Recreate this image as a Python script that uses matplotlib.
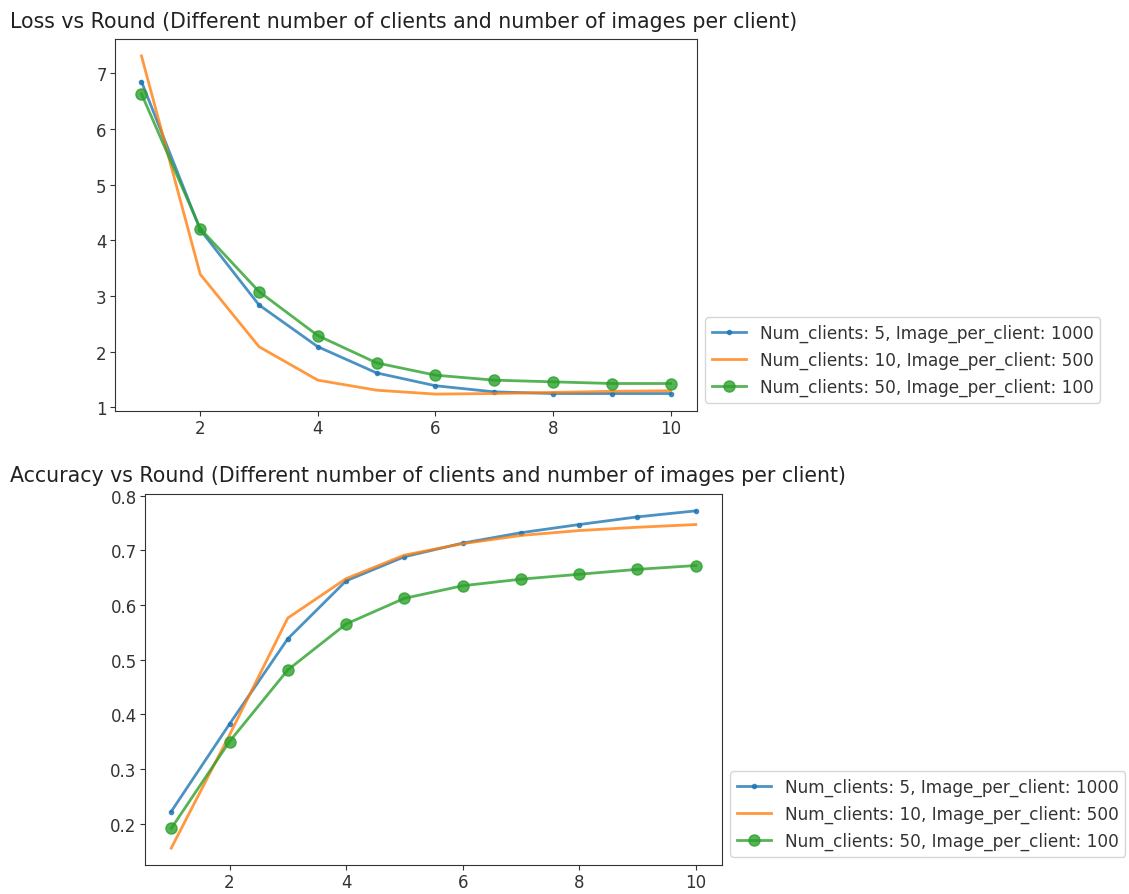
import matplotlib.pyplot as plt
import numpy as np

rounds = [1, 2, 3, 4, 5, 6, 7, 8, 9, 10]

labels = ["Num_clients: 5, Image_per_client: 1000",
          "Num_clients: 10, Image_per_client: 500",
          "Num_clients: 50, Image_per_client: 100"]

loss_5 = [6.85, 4.19, 2.84, 2.09, 1.62, 1.39, 1.28, 1.25, 1.25, 1.25]
loss_10 = [7.31, 3.39, 2.09, 1.49, 1.31, 1.24, 1.25, 1.27, 1.29, 1.30]
loss_50 = [6.63, 4.21, 3.08, 2.29, 1.80, 1.58, 1.49, 1.46, 1.43, 1.43]

acc_5 = [0.222, 0.382, 0.538, 0.644, 0.688, 0.713, 0.732, 0.747, 0.761, 0.772]
acc_10 = [0.155, 0.362, 0.576, 0.648, 0.691, 0.712, 0.727, 0.736, 0.742, 0.747]
acc_50 = [0.191, 0.350, 0.481, 0.565, 0.612, 0.635, 0.647, 0.656, 0.665, 0.672]

plt.rcParams['font.size'] = 12
plt.rcParams['axes.edgecolor'] = '#333333'

W, H = 1129, 895
fig = plt.figure(figsize=(W / 100, H / 100), dpi=100)

def px_axes(l, t, r, b):
    return fig.add_axes([l / W, 1 - b / H, (r - l) / W, (b - t) / H])

ax1 = px_axes(115, 40, 697, 412)
ax2 = px_axes(145, 495, 722, 866)

def draw(ax, s1, s2, s3):
    ax.plot(rounds, s1, marker='.', color='#1f77b4', lw=2, alpha=0.8, label=labels[0])
    ax.plot(rounds, s2, color='#ff7f0e', lw=2, alpha=0.8, label=labels[1])
    ax.plot(rounds, s3, marker='o', markersize=8, color='#2ca02c', lw=2, alpha=0.8, label=labels[2])
    ax.set_xticks([2, 4, 6, 8, 10])
    ax.tick_params(colors='#333333', pad=2.5)
    ax.legend(loc='lower left', bbox_to_anchor=(1, 0), fontsize=12.2, labelcolor='#333333')

draw(ax1, loss_5, loss_10, loss_50)
draw(ax2, acc_5, acc_10, acc_50)

fig.text(10 / W, 1 - 22 / H, "Loss vs Round (Different number of clients and number of images per client)",
         fontsize=14.8, va='center', ha='left', color='#222222')
fig.text(10 / W, 1 - 476 / H, "Accuracy vs Round (Different number of clients and number of images per client)",
         fontsize=14.8, va='center', ha='left', color='#222222')

fig.savefig('out.png', dpi=100)
